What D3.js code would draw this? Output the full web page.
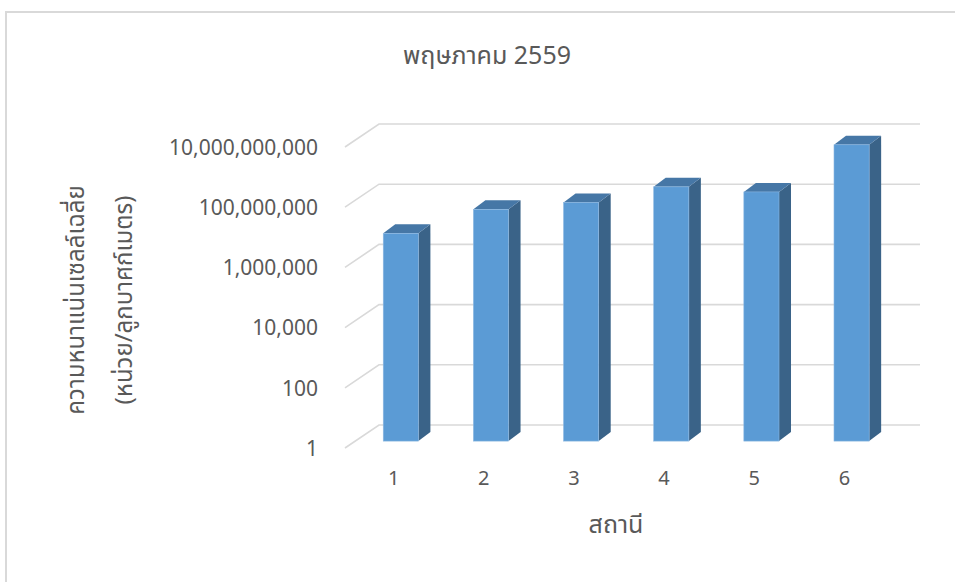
<!DOCTYPE html>
<html>
<head>
<meta charset="utf-8">
<script src="https://d3js.org/d3.v7.min.js"></script>
<style>
  html, body { margin: 0; padding: 0; background: #fff; }
  svg { display: block; }
  text { font-family: "Segoe UI", "Leelawadee UI", "Noto Sans Thai", "Noto Sans", "Open Sans", sans-serif; fill: #595959; }
</style>
</head>
<body>
<script>
// Station numbers and mean cell density per station (cells per cubic metre)
const stations = ["1", "2", "3", "4", "5", "6"];
const density = [8.0e6, 5.0e7, 8.5e7, 2.8e8, 1.9e8, 7.0e9];
const yTicks = [1, 1e2, 1e4, 1e6, 1e8, 1e10];

const chartTitle = "พฤษภาคม 2559";
const xTitle = "สถานี";
const yTitleLines = ["ความหนาแน่นเซลล์เฉลี่ย", "(หน่วย/ลูกบาศก์เมตร)"];

const W = 955, H = 582;
const svg = d3.select("body").append("svg").attr("width", W).attr("height", H);

// Outer chart-area frame (top and left edges visible)
svg.append("path")
  .attr("d", `M6,${H} L6,12 L${W},12`)
  .attr("fill", "none").attr("stroke", "#D9D9D9").attr("stroke-width", 2);

// Oblique 3D projection: depth vector from the front plane to the back wall
const wallDX = 34, wallDY = -23;
const barDepthStart = 0.3;           // front face of the columns, as a fraction of depth
const barDX = 12, barDY = -9;        // column thickness in depth

// Value scale on the front plane
const y = d3.scaleLog().domain([1, 1e10]).range([448, 147]);
// Category scale on the front plane
const x = d3.scaleBand().domain(stations).range([346, 886]).paddingInner(0.61).paddingOuter(0.3);

// Gridlines: short diagonal on the left side wall, then across the back wall
const grid = svg.append("g");
yTicks.forEach(t => {
  const fy = y(t);
  grid.append("path")
    .attr("d", `M345,${fy} L${345 + wallDX},${fy + wallDY} L920,${fy + wallDY}`)
    .attr("fill", "none").attr("stroke", "#D9D9D9").attr("stroke-width", 1.6);
});

// Y axis tick labels
const yAxis = d3.axisLeft(y).tickValues(yTicks).tickFormat(d3.format(",")).tickSize(0).tickPadding(0);
const yg = svg.append("g").attr("transform", "translate(318,0)").call(yAxis);
yg.select(".domain").remove();
yg.selectAll("text").attr("font-size", 21).attr("fill", "#595959")
  .style("font-family", null).attr("dy", "0.35em");

// X axis tick labels
const xAxis = d3.axisBottom(x).tickSize(0).tickPadding(0);
const xg = svg.append("g").attr("transform", "translate(3,471)").call(xAxis);
xg.select(".domain").remove();
xg.selectAll("text").attr("font-size", 20).attr("fill", "#595959").style("font-family", null);

// Columns
const offX = barDepthStart * wallDX, offY = barDepthStart * wallDY;
const base = y(1) + offY;
const bars = svg.append("g").selectAll("g").data(stations.map((s, i) => ({ s, v: density[i] })))
  .join("g");

bars.each(function (d) {
  const g = d3.select(this);
  const x0 = x(d.s) + offX, x1 = x0 + x.bandwidth();
  const top = y(d.v) + offY;
  // right side face
  g.append("path")
    .attr("d", `M${x1},${top} L${x1 + barDX},${top + barDY} L${x1 + barDX},${base + barDY} L${x1},${base} Z`)
    .attr("fill", "#3A6388");
  // top face
  g.append("path")
    .attr("d", `M${x0},${top} L${x0 + barDX},${top + barDY} L${x1 + barDX},${top + barDY} L${x1},${top} Z`)
    .attr("fill", "#4677A6");
  // front face
  g.append("rect")
    .attr("x", x0).attr("y", top).attr("width", x1 - x0).attr("height", base - top)
    .attr("fill", "#5B9BD5").attr("stroke", "#8DB8E2").attr("stroke-width", 0.6);
});

// Titles
svg.append("text").attr("x", 487).attr("y", 64).attr("text-anchor", "middle")
  .attr("font-size", 25).attr("fill", "#6b6b6b").text(chartTitle);

svg.append("text").attr("x", 616).attr("y", 533).attr("text-anchor", "middle")
  .attr("font-size", 25).text(xTitle);

const yt = svg.append("text").attr("transform", "translate(84,300) rotate(-90)")
  .attr("text-anchor", "middle").attr("font-size", 24);
yTitleLines.forEach((line, i) => {
  yt.append("tspan").attr("x", 0).attr("dy", i === 0 ? 0 : 48).text(line);
});
</script>
</body>
</html>
